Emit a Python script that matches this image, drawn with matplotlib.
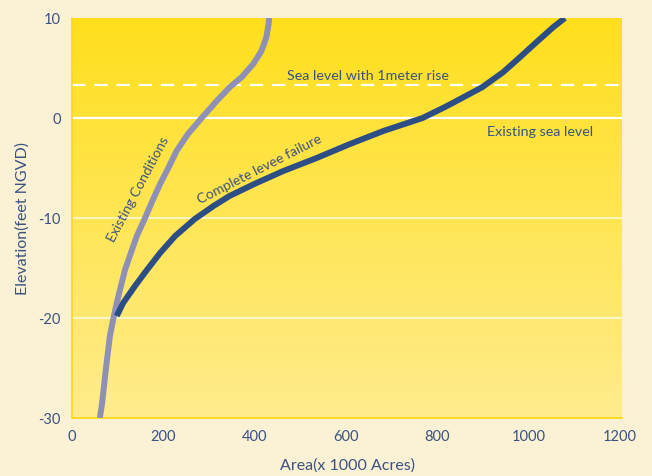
import matplotlib
matplotlib.use('Agg')
import matplotlib.pyplot as plt
import numpy as np

# Elevation (feet NGVD) vs. flooded area (x 1000 acres)
existing_area = [61, 66, 74, 83, 90, 98, 116, 142, 160, 176, 193, 211, 229, 254,
                 284, 317, 346, 372, 397, 415, 426, 431, 432]
existing_elev = [-30, -28.5, -25.2, -21.8, -20.2, -18.5, -15.2, -11.8, -10, -8.3, -6.6, -5,
                 -3.3, -1.6, 0, 1.7, 3.1, 4.1, 5.4, 6.7, 8.1, 9.5, 10]

levee_area = [98, 112, 138, 164, 193, 226, 269, 310, 345, 404, 463, 536, 609, 682,
              768, 815, 836, 898, 944, 981, 1017, 1054, 1080]
levee_elev = [-19.8, -18.5, -16.8, -15.2, -13.5, -11.8, -10.1, -8.8, -7.8, -6.5, -5.3, -4,
              -2.6, -1.3, 0, 1.05, 1.55, 3.06, 4.56, 6.06, 7.56, 9.07, 10]

sea_level = 0
sea_level_rise = 3.28  # 1 meter
x_ticks = [0, 200, 400, 600, 800, 1000, 1200]
y_ticks = [-30, -20, -10, 0, 10]

bg = '#FBF1D5'
text_col = '#3B5282'
plt.rcParams['font.family'] = ['Lato', 'DejaVu Sans']
plt.rcParams['axes.unicode_minus'] = False

fig = plt.figure(figsize=(6.52, 4.77), dpi=100, facecolor=bg)
ax = fig.add_axes([72 / 652, 1 - 419 / 477, 550 / 652, 400 / 477])

# vertical yellow gradient behind the data
grad = np.linspace(0, 1, 256).reshape(-1, 1)
cmap = matplotlib.colors.LinearSegmentedColormap.from_list('yel', ['#FFEC8E', '#FFDF1C'])
ax.imshow(grad, extent=[0, 1205, -30, 10], origin='lower', aspect='auto', cmap=cmap, zorder=0)

for y in [-20, -10]:
    ax.axhline(y, color='white', lw=1.2, alpha=0.75, zorder=1)
ax.axhline(sea_level, color='white', lw=1.6, zorder=1)
ax.axhline(sea_level_rise, color='white', lw=1.6, dashes=(6, 4), zorder=1)

ax.plot(existing_area, existing_elev, color='#8E90B5', lw=4.3, solid_capstyle='butt',
        solid_joinstyle='round', zorder=3)
ax.plot(levee_area, levee_elev, color='#2D4E84', lw=4.3, solid_capstyle='butt',
        solid_joinstyle='round', zorder=4)

ax.set_xlim(0, 1205)
ax.set_ylim(-30, 10)
ax.set_xticks(x_ticks)
ax.set_yticks(y_ticks)
ax.tick_params(length=0, colors=text_col, labelsize=10.5, pad=8)
for s in ['top', 'right']:
    ax.spines[s].set_visible(False)
for s in ['left', 'bottom']:
    ax.spines[s].set_color('#FFD80A')
    ax.spines[s].set_linewidth(1.2)

ax.set_xlabel('Area(x 1000 Acres)', color=text_col, fontsize=11.5, labelpad=10)
ax.set_ylabel('Elevation(feet NGVD)', color=text_col, fontsize=11.5, labelpad=6)

ax.text(146, -7, 'Existing Conditions', rotation=62, color=text_col, fontsize=10,
        ha='center', va='center')
ax.text(412, -5.0, 'Complete levee failure', rotation=27, color=text_col, fontsize=10,
        ha='center', va='center')
ax.text(648, 4.3, 'Sea level with 1meter rise', color=text_col, fontsize=10.3,
        ha='center', va='center')
ax.text(1025, -1.25, 'Existing sea level', color=text_col, fontsize=10.3,
        ha='center', va='center')

fig.savefig('out.png', dpi=100, facecolor=bg)
